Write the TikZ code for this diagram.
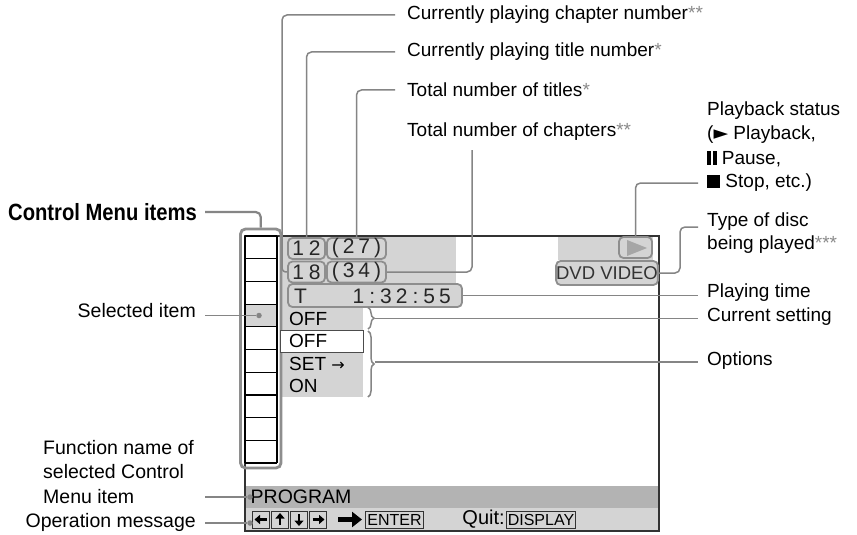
\documentclass[tikz,border=0pt]{standalone}
\usepackage{fontspec}
\setmainfont{Liberation Sans}
\newfontfamily\djv{DejaVu Sans}
\usetikzlibrary{arrows.meta,decorations.pathreplacing}
\definecolor{lg}{HTML}{D4D4D4}
\definecolor{mg}{HTML}{B3B3B3}
\definecolor{og}{HTML}{8E8E8E}
\definecolor{ld}{HTML}{858585}
\definecolor{sb}{HTML}{333333}
\definecolor{stc}{HTML}{8A8A8A}
\newcommand{\starz}[1]{{\color{stc}#1}}
\begin{document}
\begin{tikzpicture}[x=1pt,y=-1pt,
  lbl/.style={font=\fontsize{19}{22}\selectfont, inner sep=0pt, anchor=west, text=black},
  lblr/.style={lbl, anchor=east},
  leader/.style={draw=ld, line width=1.5pt, rounded corners=5pt},
  gbox/.style={draw=og, line width=1.8pt, rounded corners=4.5pt, fill=lg, inner sep=0pt, font=\fontsize{21}{21}\selectfont, text=black!85},
  num/.style={font=\fontsize{21}{21}\selectfont, inner sep=0pt, text=black!85},
  menu/.style={font=\fontsize{19}{20}\selectfont, inner sep=0pt, anchor=west},
  keybox/.style={draw=black!80, line width=0.8pt, minimum width=17pt, minimum height=17pt, inner sep=0pt},
  tbox/.style={draw=black!80, line width=0.8pt, inner sep=1.5pt, font=\fontsize{16}{16}\selectfont, minimum height=17pt},
  dotc/.style={fill=ld, circle, inner sep=0pt, minimum size=5.5pt}
]
\useasboundingbox[fill=white] (0,0) rectangle (857,535);

% background fills
\fill[lg] (280,236) rectangle (456,308);
\fill[lg] (280,308) rectangle (363,397);
\fill[lg] (558,236) rectangle (653,260);
\fill[lg] (245,304) rectangle (277,327);
\fill[mg] (245,486) rectangle (659,508);
\fill[lg] (245,508) rectangle (659,531);

% screen border
\draw[sb, line width=1.5pt] (245,236) rectangle (659,531);

% control menu column
\foreach \i in {0,...,10} { \draw[black, line width=1.2pt] (245,236+22.7*\i) -- (277,236+22.7*\i); }
\draw[black, line width=1.2pt] (245,236) -- (245,463) (277,236) -- (277,463);
\node[draw=og, line width=2.8pt, rounded corners=5pt, minimum width=40.5pt, minimum height=239pt, inner sep=0pt] (col) at (260.75,348.5) {};
\node[dotc] (sel) at (259,315.5) {};

% number boxes
\node[gbox, minimum width=37pt, minimum height=21pt] (b12) at (306.5,248.5) {1\hspace{5pt}2};
\node[gbox, minimum width=59pt, minimum height=21pt] (b27) at (356.5,248.5) {(\hspace{4pt}2\hspace{4pt}7\hspace{4pt})};
\node[gbox, minimum width=37pt, minimum height=21pt] (b18) at (306.5,272) {1\hspace{5pt}8};
\node[gbox, minimum width=59pt, minimum height=21pt] (b34) at (356.5,272) {(\hspace{4pt}3\hspace{4pt}4\hspace{4pt})};
\node[gbox, minimum width=174pt, minimum height=23pt] (bT) at (375,295.5) {};
\node[num, anchor=west] (tT) at (294,296) {T};
\node[num, anchor=east] (tTime) at (451,296) {1\hspace{5pt}:\hspace{5pt}3\hspace{4pt}2\hspace{5pt}:\hspace{5pt}5\hspace{4pt}5};

% play icon and disc type
\node[gbox, minimum width=33pt, minimum height=21pt] (bplay) at (635.5,247.5) {};
\fill[black!35] (627,240) -- (647,248) -- (627,256) -- cycle;
\node[gbox, minimum width=100pt, minimum height=24pt, font=\fontsize{18.5}{18}\selectfont, text=black!80] (bdvd) at (607,273) {DVD VIDEO};

% settings and options
\node[menu] (off1) at (289,319) {OFF};
\node[draw=black!70, fill=white, line width=1pt, minimum width=83pt, minimum height=22pt, anchor=north west, inner sep=0pt] (offbox) at (280,330) {};
\node[menu] (off2) at (289,341) {OFF};
\node[menu] (set) at (289,364) {SET {\djv\fontsize{16}{16}\selectfont →}};
\node[menu] (on) at (289,386) {ON};

\draw[ld, line width=1.5pt, decorate, decoration={brace, amplitude=6pt}] (368,307.5) -- (368,329);
\coordinate (cs) at (375,318.5);
\draw[ld, line width=1.5pt, decorate, decoration={brace, amplitude=6pt}] (368,331) -- (368,397);
\coordinate (co) at (375,362);

% bottom bars
\node[menu, font=\fontsize{19.5}{20}\selectfont] (prog) at (250.5,497) {PROGRAM};
\node[dotc] (dprog) at (250,497) {};
\foreach \i/\a in {0/180,1/90,2/270,3/0} {
  \node[keybox] (k\i) at (261+19*\i,519.5) {};
  \draw[-{Triangle[length=5.5pt,width=9pt]}, line width=2.4pt] ([shift={(\a+180:5.5pt)}]k\i.center) -- ([shift={(\a:6.5pt)}]k\i.center);
}
\coordinate (arA) at (338,519.5);
\coordinate (arB) at (362,519.5);
\draw[-{Triangle[length=10pt,width=15pt]}, line width=5pt] (arA) -- (arB);
\node[tbox, minimum width=55pt] (enter) at (394.5,519.5) {ENTER};
\node[tbox, minimum width=64pt] (disp) at (541,519.5) {DISPLAY};
\node[menu, font=\fontsize{20}{20}\selectfont, anchor=east] (quit) at ([xshift=-1pt]disp.west) {Quit:};
\node[dotc] (dop) at (250,523) {};

% top labels
\node[lbl] (tchap) at (407,15) {Currently playing chapter number\starz{**}};
\node[lbl] (ttitle) at (407,52) {Currently playing title number\starz{*}};
\node[lbl] (ttitles) at (407,90) {Total number of titles\starz{*}};
\node[lbl] (tchaps) at (407,132) {Total number of chapters\starz{**}};

\draw[leader] ([xshift=-12pt]tchap.west) -| (282,262) .. controls (282,271) and (284,272) .. (b18.west);
\draw[leader] ([xshift=-12pt]ttitle.west) -| (b12.north);
\draw[leader] ([xshift=-12pt]ttitles.west) -| (b27.north);
\coordinate (chtop) at (472,150);
\draw[leader] (chtop) |- (b34.east);

% right labels
\node[lbl] (tstat) at (707,111) {Playback status};
\node[lbl] (tstat2) at (707,135) {({\djv ►} Playback,};
\node[lbl] (tstat3) at (707,159) {\rule{3.6pt}{13.5pt}\hspace{2.2pt}\rule{3.6pt}{13.5pt} Pause,};
\node[lbl] (tstat4) at (707,183) {\rule{13pt}{13pt} Stop, etc.)};
\node[lbl] (ttype) at (707,222) {Type of disc};
\node[lbl] (ttype2) at (707,245) {being played\starz{***}};
\node[lbl] (tptime) at (707,293) {Playing time};
\node[lbl] (tcur) at (707,317) {Current setting};
\node[lbl] (topt) at (707,361) {Options};

\draw[leader] ([xshift=-9pt]tstat4.west) -| (bplay.north);
\draw[leader] (698,227) -| (680,273) -- (bdvd.east);
\draw[leader] (bT.east) -- ([xshift=-9pt]tptime.west |- bT.east);
\draw[leader] (cs) -- ([xshift=-9pt]tcur.west |- cs);
\draw[leader] (co) -- ([xshift=-9pt]topt.west |- co);

% left labels
\node[lblr, font=\bfseries\fontsize{23.5}{24}\selectfont] (tcm) at (197,212) {\scalebox{0.86}[1]{Control Menu items}};
\node[lblr, font=\fontsize{19.5}{22}\selectfont] (tsel) at (196,311) {Selected item};
\node[lbl, align=left, font=\fontsize{19.5}{24.5}\selectfont] (tfn) at (43,472) {Function name of\\selected Control\\Menu item};
\node[lblr, font=\fontsize{19.5}{22}\selectfont] (topm) at (196,522) {Operation message};

\draw[leader, line width=2.2pt] ([xshift=8pt]tcm.east) -| (col.north);
\draw[leader] ([xshift=9pt]tsel.east |- sel) -- (sel);
\draw[leader] (205,497) -- (dprog);
\draw[leader] ([xshift=9pt]topm.east |- dop) -- (dop);
\end{tikzpicture}
\end{document}
